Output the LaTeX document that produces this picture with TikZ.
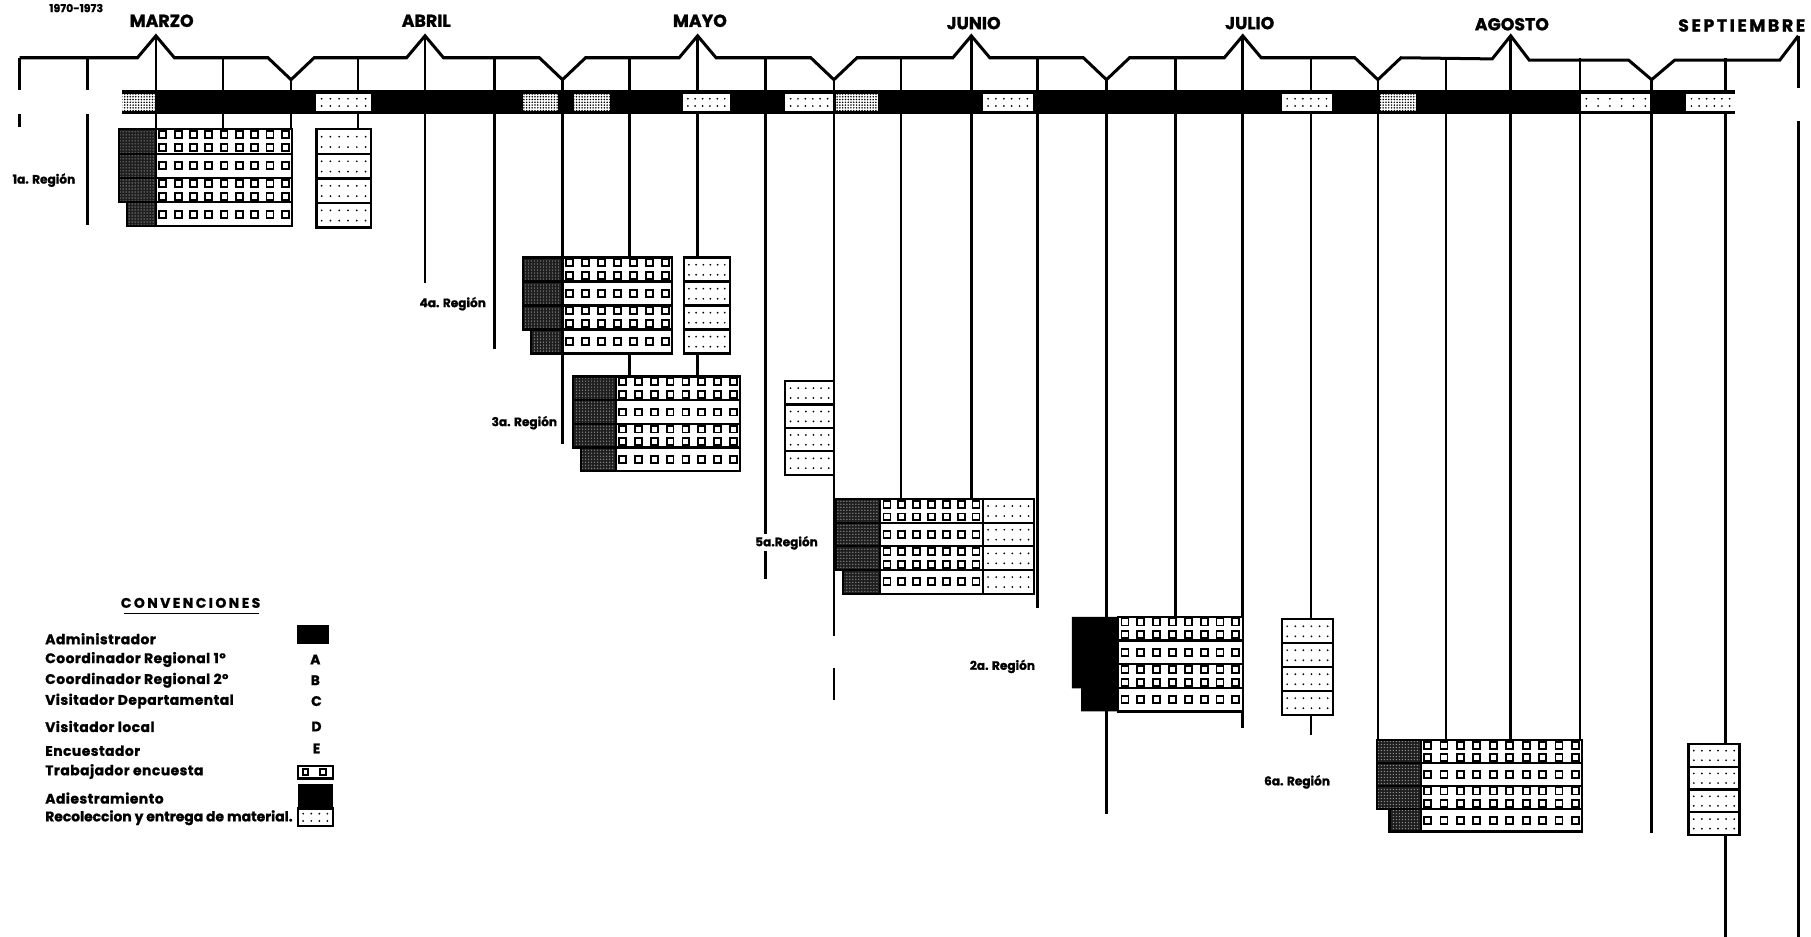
\documentclass[tikz,border=0pt]{standalone}
\usepackage{fontspec}
\setmainfont{Poppins}
\usetikzlibrary{patterns,patterns.meta}

\newcommand{\heavy}{\bfseries\addfontfeature{FakeBold=1.2}}
\tikzset{
  ln/.style={line width=2.3pt},
  topln/.style={line width=2.6pt, line join=miter},
  bx/.style={line width=1.9pt},
  sq/.style={line width=1.6pt},
  monthlbl/.style={font=\heavy\fontsize{15}{15}\selectfont, inner sep=0pt},
  reglbl/.style={font=\heavy\fontsize{10.5}{10.5}\selectfont, inner sep=1.5pt, fill=white},
  leglbl/.style={font=\heavy\fontsize{12}{12}\selectfont\addfontfeature{LetterSpace=3.5}, inner sep=0pt, anchor=west},
  legkey/.style={font=\heavy\fontsize{12}{12}\selectfont, inner sep=0pt},
  stipple/.style={pattern={Dots[distance=2.6pt,radius=0.6pt]}, pattern color=black!45},
  barstipple/.style={pattern={Dots[distance=2.4pt,radius=0.75pt]}, pattern color=black},
}

\newcommand{\shadecell}[4]{%
  \fill[black!88] (#1,#2) rectangle (#3,#4);
  \fill[stipple] (#1,#2) rectangle (#3,#4);
  \draw[bx] (#1,#2) rectangle (#3,#4);
}
\newcommand{\dotcell}[5]{%
  \fill[white] (#1,#2) rectangle (#3,#4);
  \foreach \dk in {0,...,#5}{
    \foreach \dr in {0.3,0.72}{
      \fill ({#1+4.5+\dk*(#3-#1-9)/#5},{#2+\dr*(#4-#2)}) circle (0.85pt);
    }
  }
}
\newcommand{\rshade}[5]{%
  \pgfmathsetmacro\rsh{(#4-#3)/4}
  \foreach \r in {0,1,2}{
    \pgfmathsetmacro\ya{#3+\r*\rsh}
    \pgfmathsetmacro\yb{#3+(\r+1)*\rsh}
    \shadecell{#1}{\ya}{#2}{\yb}
  }
  \pgfmathsetmacro\ya{#3+3*\rsh}
  \pgfmathsetmacro\xa{#1+#5}
  \shadecell{\xa}{\ya}{#2}{#4}
}
\newcommand{\rgrid}[5]{%
  \pgfmathsetmacro\rgh{(#4-#3)/4}
  \pgfmathsetmacro\rgs{(#2-#1-12)/(#5-1)}
  \pgfmathtruncatemacro\rgn{#5-1}
  \fill[white] (#1,#3) rectangle (#2,#4);
  \foreach \yy in {0.22,0.76,1.5,2.22,2.76,3.5}{
    \pgfmathsetmacro\yc{#3+\yy*\rgh}
    \foreach \k in {0,...,\rgn}{
      \pgfmathsetmacro\xc{#1+6+\k*\rgs}
      \draw[sq] (\xc-3,\yc-3) rectangle (\xc+3,\yc+3);
    }
  }
  \draw[bx] (#1,#3) rectangle (#2,#4);
  \foreach \r in {1,2,3}{
    \pgfmathsetmacro\ya{#3+\r*\rgh}
    \draw[bx] (#1,\ya) -- (#2,\ya);
  }
}
\newcommand{\rdots}[4]{%
  \pgfmathsetmacro\rdh{(#4-#3)/4}
  \foreach \r in {0,1,2,3}{
    \pgfmathsetmacro\ya{#3+\r*\rdh}
    \pgfmathsetmacro\yb{#3+(\r+1)*\rdh}
    \dotcell{#1}{\ya}{#2}{\yb}{5}
    \draw[bx] (#1,\ya) rectangle (#2,\yb);
  }
}

\begin{document}
\begin{tikzpicture}[x=1pt,y=-1pt]
\useasboundingbox (0,0) rectangle (1568,811);

% ---- top zigzag timeline
\draw[topln] (17,50) -- (119,50) -- (135,31) -- (151,50) -- (232,50) -- (252,69) -- (272,50)
  -- (352,50) -- (368,31) -- (384,50) -- (467,50) -- (487,69) -- (507,50)
  -- (588,50) -- (604,31) -- (620,50) -- (702,50) -- (722,69) -- (742,50)
  -- (825,50) -- (841,31) -- (857,50) -- (938,50) -- (958,69) -- (978,50)
  -- (1060,50) -- (1076,31) -- (1092,50) -- (1173,50) -- (1193,69) -- (1213,50)
  -- (1292,51) -- (1308,31) -- (1324,52) -- (1410,52) -- (1430,69) -- (1450,52)
  -- (1541,52) -- (1557,31);

% ticks above the bar
\foreach \x in {17,76,193,310,428,545,663,780,898,1018,1135,1252,1368,1494}
  \draw[ln] (\x,50) -- (\x,78);
\foreach \x in {135,368,604,841,1076,1308}
  \draw[ln] (\x,31) -- (\x,78);
\draw[ln] (1557,31) -- (1557,76);
\foreach \x in {252,487,722,958,1193,1430}
  \draw[ln] (\x,69) -- (\x,78);

% ticks below the bar
\foreach \x/\ye in {17/110, 76/195, 135/112, 193/112, 252/112, 310/112, 368/245, 428/302,
  487/384, 545/223, 604/223, 663/501, 722/551, 780/432, 841/432, 898/526, 958/705,
  1018/534, 1076/630, 1135/536, 1193/641, 1252/641, 1308/641, 1368/641, 1430/721, 1494/644}
  \draw[ln] (\x,99) -- (\x,\ye);
\draw[ln] (545,306) -- (545,326);
\draw[ln] (604,306) -- (604,326);
\draw[ln] (722,578) -- (722,606);
\draw[ln] (1135,619) -- (1135,636);
\draw[ln] (1494,723) -- (1494,811);
\draw[ln] (1557,105) -- (1557,811);

% ---- black bar with patches
\fill (106,78) rectangle (1502,99);
\foreach \a/\b in {106/134, 453/483, 497/528, 724/760, 1195/1226}{
  \fill[white] (\a,81) rectangle (\b,96);
  \fill[barstipple] (\a,81) rectangle (\b,96);
}
\foreach \a/\b in {274/321, 591/632, 680/721, 851/894, 1110/1153, 1369/1429, 1460/1502}{
  \dotcell{\a}{81}{\b}{96}{5}
}

% ---- regions
% 1a
\rshade{103}{135}{112}{196}{7}
\rgrid{135}{253}{112}{196}{9}
\rdots{274}{321}{112}{197}
% 4a
\rshade{453}{487}{223}{306}{7}
\rgrid{487}{582}{223}{306}{7}
\rdots{592}{632}{223}{306}
% 3a
\rshade{496}{533}{326}{408}{7}
\rgrid{533}{641}{326}{408}{8}
\rdots{680}{722}{330}{411}
% 5a
\rshade{724}{762}{432}{514}{6}
\rgrid{762}{851}{432}{514}{7}
\rdots{851}{895}{432}{514}
% 2a
\fill (928,534) -- (968,534) -- (968,616) -- (936,616) -- (936,596) -- (928,596) -- cycle;
\rgrid{968}{1076}{534}{616}{8}
\rdots{1110}{1154}{536}{619}
% 6a
\rshade{1192}{1230}{641}{720}{11}
\rgrid{1230}{1370}{641}{720}{10}
\rdots{1462}{1506}{644}{723}

% ---- labels
\node[font=\heavy\fontsize{9.5}{9.5}\selectfont, inner sep=0pt] (years) at (66,7) {1970-1973};
\node[monthlbl] (marzo) at (140,18) {MARZO};
\node[monthlbl] (abril) at (369,18) {ABRIL};
\node[monthlbl] (mayo) at (606,18) {MAYO};
\node[monthlbl] (junio) at (843,20) {JUNIO};
\node[monthlbl] (julio) at (1082,20) {JULIO};
\node[monthlbl] (agosto) at (1309,21) {AGOSTO};
\node[monthlbl] (sept) at (1508,22) {\addfontfeature{LetterSpace=15}SEPTIEMBRE};

\node[reglbl] (r1) at (38,156) {1a. Región};
\node[reglbl] (r4) at (392,263) {4a. Región};
\node[reglbl] (r3) at (454,366) {3a. Región};
\node[reglbl] (r5) at (681,470) {5a.Región};
\node[reglbl] (r2) at (868,577) {2a. Región};
\node[reglbl] (r6) at (1123,677) {6a. Región};

% ---- legend
\node[legkey] (conv) at (165,522) {\addfontfeature{LetterSpace=18}CONVENCIONES};
\draw[line width=1.2pt] (107,531) -- (224,531);
\node[leglbl] (l1) at (39,553) {Administrador};
\node[leglbl] (l2) at (39,571) {Coordinador Regional 1º};
\node[leglbl] (l3) at (39,589) {Coordinador Regional 2º};
\node[leglbl] (l4) at (39,607) {Visitador Departamental};
\node[leglbl] (l5) at (39,629) {Visitador local};
\node[leglbl] (l6) at (39,650) {Encuestador};
\node[leglbl] (l7) at (39,668) {Trabajador encuesta};
\node[leglbl] (l8) at (39,691) {Adiestramiento};
\node[leglbl, font=\heavy\fontsize{12}{12}\selectfont] (l9) at (39,708) {Recoleccion y entrega de material.};
\node[legkey] (ka) at (273,571) {A};
\node[legkey] (kb) at (273,589) {B};
\node[legkey] (kc) at (274,607) {C};
\node[legkey] (kd) at (274,629) {D};
\node[legkey] (ke) at (274,648) {E};
\fill (257,541) rectangle (285,558);
\draw[bx] (258,663) rectangle (288,674);
\draw[sq] (262,666) rectangle (267,671);
\draw[sq] (277,666) rectangle (282,671);
\fill (258,679) rectangle (288,699);
\dotcell{258}{700}{288}{715}{3}
\draw[bx] (258,700) rectangle (288,715);
\end{tikzpicture}
\end{document}
